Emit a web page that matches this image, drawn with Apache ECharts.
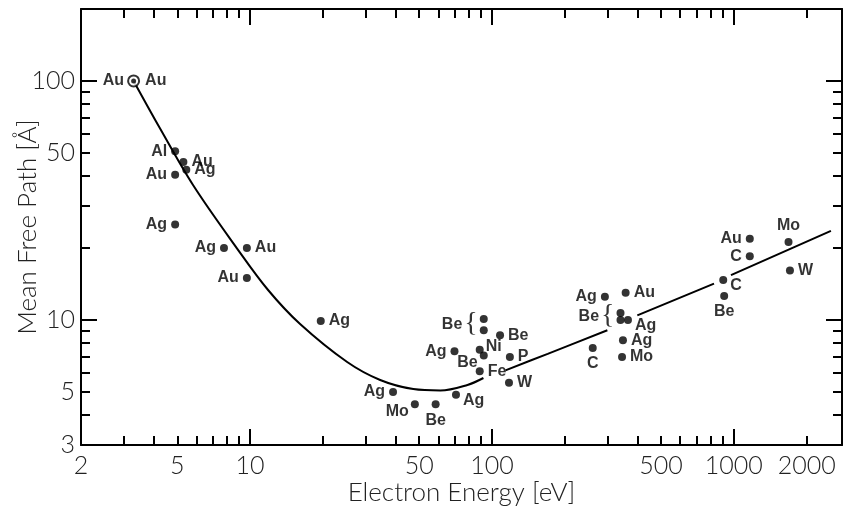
<!DOCTYPE html>
<html>
<head>
<meta charset="utf-8">
<script src="https://cdn.jsdelivr.net/npm/echarts@6/dist/echarts.min.js"></script>
<style>
  html, body { margin: 0; padding: 0; background: #fff; }
  #chart { width: 845px; height: 511px; }
</style>
</head>
<body>
<div id="chart"></div>
<script>
// Universal curve of the electron inelastic mean free path (log-log).
// Curve samples; null entries break the drawn line where labels sit on it.
const curveEnergy = [3.3, 4.24, 5.81, 8.81, 11.87, 16.1, 25.2, 34.5, 47.3, 61.2, 79.2, 92.2, null,
                     113.7, 170, 300, null, 399, 828, null, 973, 2520];
const curveMfp    = [100, 63.4, 36.7, 20.0, 13.35, 9.62, 6.67, 5.61, 5.14, 5.07, 5.35, 5.72, null,
                     6.16, 7.22, 9.06, null, 10.46, 14.2, null, 15.4, 23.6];

// Measured points: element, energy [eV], mean free path [Å]
const element = ['Au', 'Au', 'Al', 'Au', 'Ag', 'Au', 'Ag', 'Ag', 'Au', 'Au',
                 'Ag', 'Ag', 'Mo', 'Be', 'Ag', 'Ag', 'Be', 'Be', 'Be', 'Ni',
                 'Be', 'P', 'Fe', 'W', 'Ag', 'Au', 'Be', 'Be', 'Ag', 'Ag',
                 'Mo', 'C', 'Au', 'C', 'Mo', 'W', 'C', 'Be'];
const energy  = [3.3, 3.3, 4.9, 5.3, 5.45, 4.9, 4.9, 7.8, 9.7, 9.7,
                 19.6, 39, 48, 58.5, 71, 70, 92.5, 92.5, 108, 89,
                 92.5, 118.6, 89, 117.6, 293, 357, 340, 340, 365, 348,
                 345, 261, 1164, 1164, 1683, 1706, 904, 912];
const mfp     = [100, 100, 50.8, 45.8, 42.5, 40.5, 25.1, 20, 20, 15,
                 9.9, 5.0, 4.44, 4.44, 4.87, 7.4, 10.1, 9.06, 8.63, 7.51,
                 7.11, 7.0, 6.1, 5.47, 12.5, 13.0, 10.7, 10.0, 10.0, 8.22,
                 7.0, 7.64, 21.9, 18.5, 21.2, 16.1, 14.7, 12.6];

// Axis ticks and labels
const xMinorTicks = [3, 4, 5, 6, 7, 8, 9, 20, 30, 40, 50, 60, 70, 80, 90,
                     200, 300, 400, 500, 600, 700, 800, 900, 2000];
const xMajorTicks = [10, 100, 1000];
const xLabels = [2, 5, 10, 50, 100, 500, 1000, 2000];
const yMinorTicks = [4, 5, 6, 7, 8, 9, 20, 30, 40, 50, 60, 70, 80, 90];
const yMajorTicks = [10, 100];
const yLabels = [3, 5, 10, 50, 100];

// Where each point's element label sits
const labelSide = ['ringLeft', 'ringRight', 'left', 'right', 'right', 'left', 'left', 'left', 'right', 'left',
                   'right', 'left', 'lowerLeft', 'bottom', 'lowerRight', 'left', 'brace', 'none', 'right', 'upperRight',
                   'lowerLeft', 'right', 'right', 'right', 'left', 'right', 'brace2', 'none', 'lowerRight', 'right',
                   'right', 'bottom', 'left', 'left', 'top', 'right', 'lowerRight', 'bottom'];

const INK = '#000';
const TICK_FONT = { fontFamily: 'Lato', fontWeight: 300, fontSize: 25, color: '#222' };
const TITLE_FONT = { fontFamily: 'Lato', fontWeight: 300, fontSize: 26, color: '#222' };

function labelFor(side, name) {
  const base = { show: true, formatter: name, distance: 4 };
  switch (side) {
    case 'ringLeft': return Object.assign(base, { position: 'left', distance: 3 });
    case 'ringRight': return Object.assign(base, { position: 'right', distance: 9 });
    case 'lowerLeft': return Object.assign(base, { position: 'left', offset: [2, 7] });
    case 'lowerRight': return Object.assign(base, { position: 'right', offset: [-1, 6] });
    case 'upperRight': return Object.assign(base, { position: 'right', offset: [-2, -3] });
    case 'brace': return Object.assign(base, { position: 'left', distance: 2, offset: [0, 6],
      formatter: '{t|' + name + '}{b|{}' });
    case 'brace2': return Object.assign(base, { position: 'left', distance: 2, offset: [0, 4],
      formatter: '{t|' + name + '}{b|{}' });
    case 'none': return { show: false };
    default: return Object.assign(base, { position: side });
  }
}

const points = energy.map((e, i) => {
  const side = labelSide[i];
  const item = { value: [e, mfp[i]], label: labelFor(side, element[i]) };
  if (side === 'ringLeft') {
    item.symbol = 'emptyCircle';
    item.symbolSize = 11;
    item.itemStyle = { color: INK, borderColor: INK, borderWidth: 1.8 };
  } else if (side === 'ringRight') {
    item.symbolSize = 5;
    item.z2 = 10;
  }
  return item;
});

const curve = curveEnergy.map((e, i) => (e === null ? ['-', '-'] : [e, curveMfp[i]]));

function logXAxis(position, ticks, tickLen, withLabels, withLine) {
  return {
    type: 'log', logBase: 10, min: 2, max: 2800, position: position,
    axisLine: { show: withLine, onZero: false, lineStyle: { color: INK, width: 2 } },
    axisTick: { show: true, inside: true, length: tickLen, customValues: ticks,
                lineStyle: { color: INK, width: 2 } },
    axisLabel: withLabels
      ? Object.assign({ show: true, margin: 8, customValues: xLabels,
                        formatter: v => String(+(+v).toPrecision(6)) }, TICK_FONT)
      : { show: false },
    splitLine: { show: false },
    minorTick: { show: false }
  };
}

function logYAxis(position, ticks, tickLen, withLabels, withLine) {
  return {
    type: 'log', logBase: 10, min: 3, max: 200, position: position,
    axisLine: { show: withLine, onZero: false, lineStyle: { color: INK, width: 2 } },
    axisTick: { show: true, inside: true, length: tickLen, customValues: ticks,
                lineStyle: { color: INK, width: 2 } },
    axisLabel: withLabels
      ? Object.assign({ show: true, margin: 6, customValues: yLabels,
                        formatter: v => String(+(+v).toPrecision(6)) }, TICK_FONT)
      : { show: false },
    splitLine: { show: false },
    minorTick: { show: false }
  };
}

const xMain = logXAxis('bottom', xMinorTicks, 9, true, true);
xMain.name = 'Electron Energy [eV]';
xMain.nameLocation = 'middle';
xMain.nameGap = 35;
xMain.nameMoveOverlap = false;
xMain.nameTextStyle = TITLE_FONT;

const yMain = logYAxis('left', yMinorTicks, 9, true, true);
yMain.name = 'Mean Free Path [Å]';
yMain.nameLocation = 'middle';
yMain.nameGap = 40;
yMain.nameMoveOverlap = false;
yMain.nameTextStyle = TITLE_FONT;

const chart = echarts.init(document.getElementById('chart'), null, { renderer: 'canvas' });
chart.setOption({
  animation: false,
  backgroundColor: '#fff',
  grid: { left: 81, right: 3, top: 9, bottom: 66, containLabel: false, outerBoundsMode: 'none' },
  xAxis: [
    xMain,
    logXAxis('bottom', xMajorTicks, 16, false, false),
    logXAxis('top', xMinorTicks, 9, false, true),
    logXAxis('top', xMajorTicks, 16, false, false)
  ],
  yAxis: [
    yMain,
    logYAxis('left', yMajorTicks, 16, false, false),
    logYAxis('right', yMinorTicks, 9, false, true),
    logYAxis('right', yMajorTicks, 16, false, false)
  ],
  series: [
    {
      type: 'line', xAxisIndex: 0, yAxisIndex: 0,
      data: curve, smooth: 0.35, connectNulls: false,
      showSymbol: false, symbol: 'none',
      lineStyle: { color: INK, width: 2 }, z: 2
    },
    {
      type: 'scatter', xAxisIndex: 0, yAxisIndex: 0,
      data: points, symbol: 'circle', symbolSize: 8,
      itemStyle: { color: INK },
      label: {
        color: INK, fontFamily: 'Liberation Sans', fontWeight: 'bold', fontSize: 16,
        rich: {
          t: { color: INK, fontFamily: 'Liberation Sans', fontWeight: 'bold', fontSize: 16 },
          b: { color: INK, fontFamily: 'Liberation Serif', fontWeight: 'normal', fontSize: 28, padding: [0, 0, 3, 2] }
        }
      },
      z: 3
    }
  ]
});
</script>
</body>
</html>
